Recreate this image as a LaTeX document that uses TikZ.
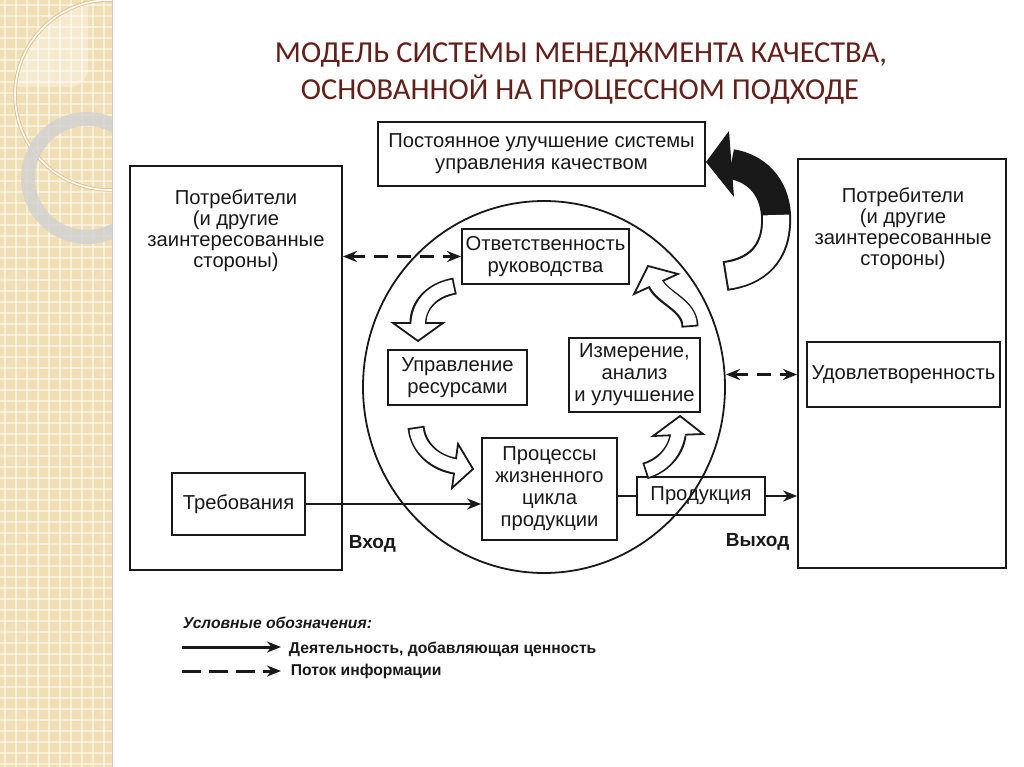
\documentclass[tikz,border=0pt]{standalone}
\usepackage{fontspec}
\setmainfont{Liberation Sans}
\newfontfamily\titlefont{Carlito}
\usepackage{tikz}
\usetikzlibrary{positioning}
\usetikzlibrary{arrows.meta}
\usetikzlibrary{shapes.geometric}

\definecolor{titlered}{RGB}{98,32,26}
\definecolor{sand}{RGB}{240,223,180}
\definecolor{ink}{RGB}{25,25,25}

\begin{document}
\begin{tikzpicture}[x=1pt, y=-1pt, line width=1.8pt, ink,
  >={Stealth[length=14pt, width=11pt]},
  box/.style={draw, align=center, inner sep=0pt, font=\fontsize{20.2}{22}\selectfont},
  txt/.style={align=center, inner sep=0pt, font=\fontsize{20.2}{21}\selectfont},
  flow/.style={->, line width=2.4pt},
  info/.style={<->, line width=2.4pt, dash pattern=on 14pt off 9pt},
  lgd/.style={anchor=base west, inner sep=0pt, font=\fontsize{15.7}{18}\selectfont\bfseries}]

\useasboundingbox (0,0) rectangle (1024,767);
\fill[white] (0,0) rectangle (1024,767);

\begin{scope}
\clip (0,0) rectangle (112,767);
\fill[sand] (0,0) rectangle (112,767);
\foreach \i in {0,...,70} \draw[white, opacity=0.5, line width=1.2pt] (0,\i*11+5) -- (112,\i*11+5);
\foreach \i in {0,...,10} \draw[white, opacity=0.5, line width=1.2pt] (\i*11+5,0) -- (\i*11+5,767);
\begin{scope}
\clip (110,95) circle (95);
\fill[white, opacity=0.35, rounded corners=18pt] (0,-20) rectangle (88,87);
\end{scope}
\draw[sand!70!brown, line width=3.5pt] (110,95) circle (95);
\draw[white, line width=1.6pt] (110,95) circle (95);
\fill[gray!35, opacity=0.85, even odd rule] (87,178) circle (66) (87,178) circle (52);
\end{scope}
\draw[gray!40, line width=0.8pt] (112,0) -- (112,767);

\node (t1) [anchor=base, inner sep=0pt, text=titlered, font=\titlefont\fontsize{30.5}{37}\selectfont] at (581,63) {МОДЕЛЬ СИСТЕМЫ МЕНЕДЖМЕНТА КАЧЕСТВА,};
\node (t2) [anchor=base, inner sep=0pt, text=titlered, font=\titlefont\fontsize{30.5}{37}\selectfont] at (580,100) {ОСНОВАННОЙ НА ПРОЦЕССНОМ ПОДХОДЕ};

\node (imp) [box, minimum width=327pt, minimum height=64pt] at (541.5,154) {Постоянное улучшение системы\\управления качеством};
\node (cl) [draw, minimum width=212pt, minimum height=404pt] at (236,368) {};
\node (cr) [draw, minimum width=208pt, minimum height=409pt] at (902,363.5) {};
\node (ct1) [txt] at (236,231) {Потребители\\(и другие\\заинтересованные\\стороны)};
\node (ct2) [txt] at (903,229) {Потребители\\(и другие\\заинтересованные\\стороны)};
\node (req) [box, minimum width=133pt, minimum height=62pt] at (238.5,504) {Требования};
\node (sat) [box, minimum width=193pt, minimum height=65pt] at (903.5,374.5) {Удовлетворенность};

\node (circ) [draw, ellipse, minimum width=362pt, minimum height=372pt] at (544,387) {};
\node (resp) [box, minimum width=167pt, minimum height=55pt] at (545.5,256.5) {Ответственность\\руководства};
\node (res) [box, minimum width=139pt, minimum height=55pt] at (457.5,377.5) {Управление\\ресурсами};
\node (meas) [box, minimum width=131pt, minimum height=74pt] at (634.5,375) {Измерение,\\анализ\\и улучшение};
\node (proc) [box, minimum width=135pt, minimum height=102pt] at (549.5,489) {Процессы\\жизненного\\цикла\\продукции};
\node (prod) [box, minimum width=128pt, minimum height=38pt] at (701,496) {Продукция};

\node (in) [anchor=base west, inner sep=0pt, font=\fontsize{19}{21}\selectfont\bfseries] at (348,548) {Вход};
\node (out) [anchor=base west, inner sep=0pt, font=\fontsize{19}{21}\selectfont\bfseries] at (725,546) {Выход};

\draw[info] (cl.east |- resp) -- (resp);
\draw[info] (sat -| circ.east) -- (sat -| cr.west);
\draw[flow] (req) -- (req -| proc.west);
\draw[line width=2.4pt] (proc.east |- prod) -- (prod);
\draw[flow] (prod) -- (prod -| cr.west);

\draw[line width=17pt] (455,286) .. controls (432,290) and (418,305) .. (418,323);
\filldraw[fill=white] (393,323) -- (418,341) -- (443,323) -- cycle;
\draw[white, line width=13.4pt, shorten <=1.8pt, shorten >=-3pt] (455,286) .. controls (432,290) and (418,305) .. (418,323);

\draw[line width=17pt] (416,427) .. controls (418,448) and (435,463) .. (455,466);
\filldraw[fill=white] (458,444) -- (473,469) -- (452,488) -- cycle;
\draw[white, line width=13.4pt, shorten <=1.8pt, shorten >=-3pt] (416,427) .. controls (418,448) and (435,463) .. (455,466);

\draw[line width=17pt] (645,471) .. controls (662,466) and (676,452) .. (678,435);
\filldraw[fill=white] (653,436) -- (680,416) -- (703,434) -- cycle;
\draw[white, line width=13.4pt, shorten <=1.8pt, shorten >=-3pt] (645,471) .. controls (662,466) and (676,452) .. (678,435);

\draw[line width=17pt] (690,327) .. controls (690,305) and (662,298) .. (656,284);
\filldraw[fill=white] (678,274) -- (648,266) -- (634,294) -- cycle;
\draw[white, line width=13.4pt, shorten <=1.8pt, shorten >=-3pt] (690,327) .. controls (690,305) and (662,298) .. (656,284);

\draw[line width=30pt] (725,276) .. controls (755,272) and (778,255) .. (776,215) .. controls (774,185) and (755,168) .. (731,164);
\fill (729,131) -- (706,162) -- (734,197) -- cycle;
\draw[white, line width=26pt, shorten <=2pt] (725,276) .. controls (755,272) and (778,255) .. (776,215);

\node (l0) [anchor=base west, inner sep=0pt, font=\fontsize{15.7}{18}\selectfont\bfseries\itshape] at (182,628) {Условные обозначения:};
\node (l1) [lgd] at (288,653) {Деятельность, добавляющая ценность};
\node (l2) [lgd] at (290,675) {Поток информации};
\coordinate (a1) at (182,647);
\coordinate (a2) at (182,671);
\draw[->, line width=3pt, shorten >=7pt] (a1) -- (a1 -| l1.west);
\draw[->, line width=3pt, dash pattern=on 19pt off 8pt, shorten >=9pt] (a2) -- (a2 -| l2.west);

\end{tikzpicture}
\end{document}
